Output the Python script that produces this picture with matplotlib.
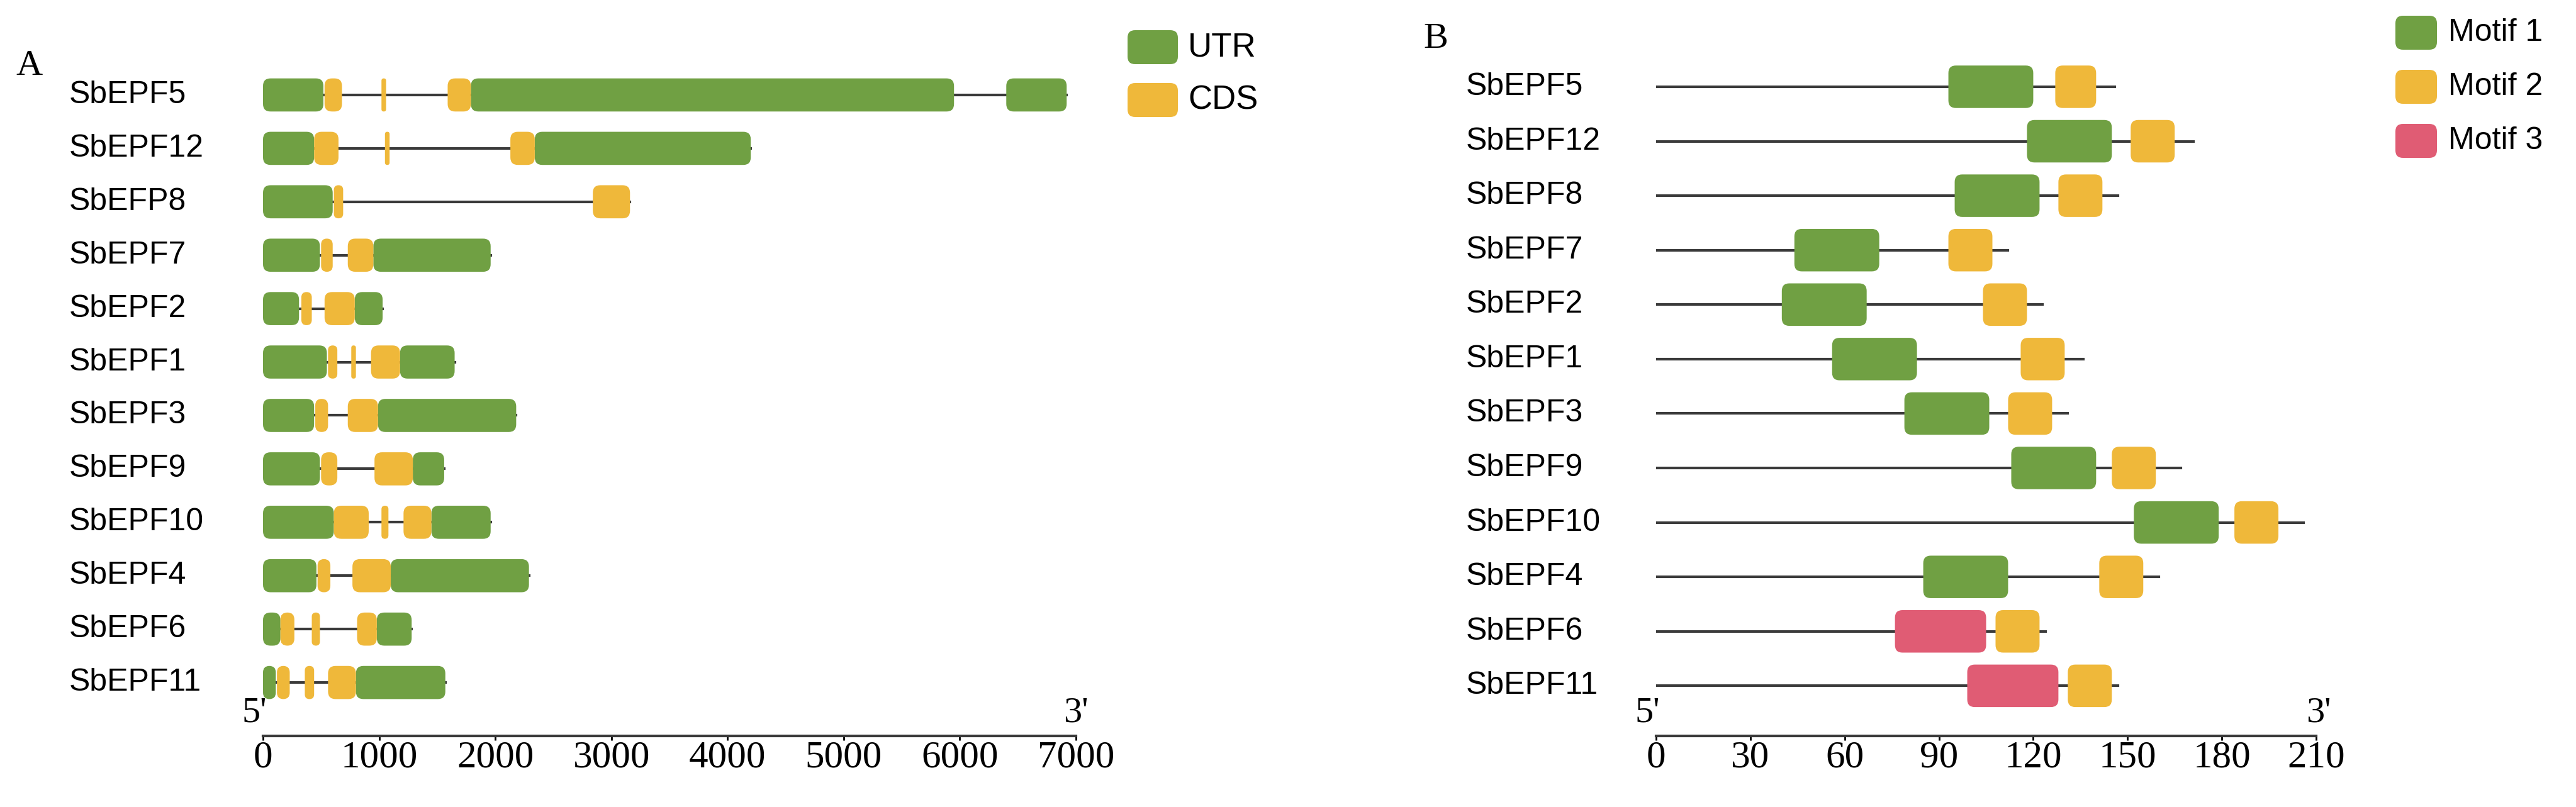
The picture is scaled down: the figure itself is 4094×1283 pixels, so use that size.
import matplotlib
matplotlib.use('Agg')
import matplotlib.pyplot as plt
from matplotlib.patches import FancyBboxPatch
from matplotlib import transforms

# panel A: gene structure (bp), segments as (start, end)
genes_a = ['SbEPF5', 'SbEPF12', 'SbEFP8', 'SbEPF7', 'SbEPF2', 'SbEPF1',
           'SbEPF3', 'SbEPF9', 'SbEPF10', 'SbEPF4', 'SbEPF6', 'SbEPF11']
utr_a = [
    [(0, 520), (1790, 5950), (6400, 6920)],
    [(0, 440), (2340, 4200)],
    [(0, 600)],
    [(0, 490), (950, 1960)],
    [(0, 310), (790, 1030)],
    [(0, 550), (1180, 1650)],
    [(0, 440), (990, 2180)],
    [(0, 490), (1290, 1560)],
    [(0, 610), (1450, 1960)],
    [(0, 460), (1100, 2290)],
    [(0, 150), (980, 1280)],
    [(0, 110), (800, 1570)],
]
cds_a = [
    [(530, 680), (1020, 1060), (1590, 1790)],
    [(440, 650), (1050, 1090), (2130, 2340)],
    [(610, 690), (2840, 3160)],
    [(500, 600), (730, 950)],
    [(330, 420), (530, 790)],
    [(560, 640), (760, 800), (930, 1180)],
    [(450, 560), (730, 990)],
    [(500, 640), (960, 1290)],
    [(610, 910), (1020, 1080), (1210, 1450)],
    [(470, 580), (770, 1100)],
    [(150, 270), (420, 490), (810, 980)],
    [(120, 230), (360, 440), (560, 800)],
]
ticks_a = [0, 1000, 2000, 3000, 4000, 5000, 6000, 7000]

# panel B: protein motifs (aa)
genes_b = ['SbEPF5', 'SbEPF12', 'SbEPF8', 'SbEPF7', 'SbEPF2', 'SbEPF1',
           'SbEPF3', 'SbEPF9', 'SbEPF10', 'SbEPF4', 'SbEPF6', 'SbEPF11']
length_b = [146, 171, 147, 112, 123, 136, 131, 167, 206, 160, 124, 147]
motif1_b = [(93, 120), (118, 145), (95, 122), (44, 71), (40, 67), (56, 83),
            (79, 106), (113, 140), (152, 179), (85, 112), None, None]
motif2_b = [(127, 140), (151, 165), (128, 142), (93, 107), (104, 118), (116, 130),
            (112, 126), (145, 159), (184, 198), (141, 155), (108, 122), (131, 145)]
motif3_b = [None, None, None, None, None, None, None, None, None, None, (76, 105), (99, 128)]
ticks_b = [0, 30, 60, 90, 120, 150, 180, 210]

GREEN = '#70a043'
YELLOW = '#efb83a'
PINK = '#e05c74'
LINE = '#3a3a3a'
W, H = 4094, 1283

fig = plt.figure(figsize=(W / 100, H / 100), dpi=100)
over = fig.add_axes([0, 0, 1, 1])
over.set_xlim(0, W)
over.set_ylim(H, 0)
over.axis('off')


def box(ax, x0, x1, y, h, color, rad, asp):
    ax.add_patch(FancyBboxPatch((x0, y - h / 2), x1 - x0, h,
                                boxstyle='round,pad=0,rounding_size=%f' % min(rad, (x1 - x0) / 2),
                                mutation_aspect=asp, fc=color, ec='none', zorder=3))


def panel(x0px, x1px, ytop, yaxis, xmax, bottom_idx):
    ax = fig.add_axes([x0px / W, (H - yaxis) / H, (x1px - x0px) / W, (yaxis - ytop) / H])
    ax.set_xlim(0, xmax)
    ax.set_ylim(bottom_idx, -0.6)
    for s in ['top', 'right', 'left']:
        ax.spines[s].set_visible(False)
    ax.spines['bottom'].set_linewidth(3)
    ax.spines['bottom'].set_color(LINE)
    ax.set_yticks([])
    ax.tick_params(axis='x', length=5, width=2, labelsize=44, pad=0)
    ax.patch.set_alpha(0)
    asp = ((bottom_idx + 0.6) / (yaxis - ytop)) / (xmax / (x1px - x0px))
    return ax, asp


serif = ['Liberation Serif', 'DejaVu Serif']
sans = ['Liberation Sans', 'DejaVu Sans']

# ---- panel A
axa, aspa = panel(418, 1710, 100, 1170, 7000, 12.0)
rada = 12 * 7000 / 1292
for i in range(len(genes_a)):
    segs = utr_a[i] + cds_a[i]
    end = max(e for s, e in segs)
    axa.plot([0, end], [i, i], color=LINE, lw=3, zorder=1)
    for s, e in utr_a[i]:
        box(axa, s, e, i, 0.62, GREEN, rada, aspa)
    for s, e in cds_a[i]:
        box(axa, s, e, i, 0.62, YELLOW, rada, aspa)
axa.set_xticks(ticks_a)
for t in axa.get_xticklabels():
    t.set_fontfamily(serif)
tra = transforms.blended_transform_factory(over.transData, axa.transData)
for i, g in enumerate(genes_a):
    over.text(110, i, g, transform=tra, ha='left', va='center', fontsize=36, family=sans)
over.text(385, 1160, "5'", fontsize=42, family=serif, ha='left', va='bottom')
over.text(1690, 1160, "3'", fontsize=42, family=serif, ha='left', va='bottom')
over.text(25, 105, 'A', fontsize=42, family=serif, va='center')

# ---- panel B
axb, aspb = panel(2632, 3681, 86, 1170, 210, 11.92)
radb = 12 * 210 / 1049
for i in range(len(genes_b)):
    axb.plot([0, length_b[i]], [i, i], color=LINE, lw=3, zorder=1)
    for seg, col in [(motif1_b[i], GREEN), (motif2_b[i], YELLOW), (motif3_b[i], PINK)]:
        if seg is not None:
            box(axb, seg[0], seg[1], i, 0.78, col, radb, aspb)
axb.set_xticks(ticks_b)
for t in axb.get_xticklabels():
    t.set_fontfamily(serif)
trb = transforms.blended_transform_factory(over.transData, axb.transData)
for i, g in enumerate(genes_b):
    over.text(2330, i, g, transform=trb, ha='left', va='center', fontsize=36, family=sans)
over.text(2598, 1160, "5'", fontsize=42, family=serif, ha='left', va='bottom')
over.text(3665, 1160, "3'", fontsize=42, family=serif, ha='left', va='bottom')
over.text(2262, 62, 'B', fontsize=42, family=serif, va='center')

# ---- legends
for (y, c, lab) in [(75, GREEN, 'UTR'), (159, YELLOW, 'CDS')]:
    over.add_patch(FancyBboxPatch((1792, y - 27), 80, 54, boxstyle='round,pad=0,rounding_size=12',
                                  fc=c, ec='none'))
    over.text(1888, y, lab, fontsize=38, family=sans, va='center')
for (y, c, lab) in [(52, GREEN, 'Motif 1'), (138, YELLOW, 'Motif 2'), (224, PINK, 'Motif 3')]:
    over.add_patch(FancyBboxPatch((3807, y - 27), 66, 54, boxstyle='round,pad=0,rounding_size=12',
                                  fc=c, ec='none'))
    over.text(3891, y, lab, fontsize=36, family=sans, va='center')

fig.savefig('out.png', dpi=100)
